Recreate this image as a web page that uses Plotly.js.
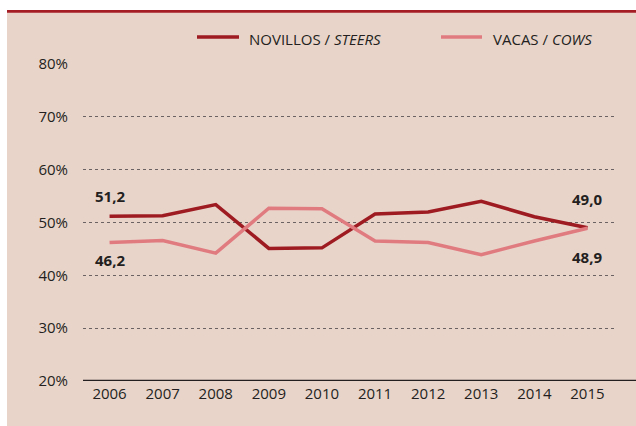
<!DOCTYPE html>
<html>
<head>
<meta charset="utf-8">
<script src="https://cdn.plot.ly/plotly-3.0.1.min.js"></script>
<style>html,body{margin:0;padding:0;background:#fff;}#chart{width:636px;height:426px;}</style>
</head>
<body>
<div id="chart"></div>
<script>
const years = [2006, 2007, 2008, 2009, 2010, 2011, 2012, 2013, 2014, 2015];
const steers = [51.2, 51.3, 53.4, 45.1, 45.2, 51.6, 52.0, 54.0, 51.1, 49.0];
const cows = [46.2, 46.6, 44.2, 52.7, 52.6, 46.5, 46.2, 43.9, 46.5, 48.9];
const yTicks = [20, 30, 40, 50, 60, 70, 80];
const yTickText = ['20%', '30%', '40%', '50%', '60%', '70%', '80%'];
const steersName = 'NOVILLOS / <i>STEERS</i>';
const cowsName = 'VACAS / <i>COWS</i>';

const W = 636, H = 426;
const mL = 83, mR = 22, mT = 64, mB = 45;
const pw = W - mL - mR, ph = H - mT - mB;
const px = x => (x - mL) / pw;
const py = y => (H - mB - y) / ph;

const steersColor = '#9e1b22';
const cowsColor = '#e07b80';
const panel = '#e9d4ca';
const ink = '#231f20';
const fnt = 'Open Sans, DejaVu Sans, sans-serif';

const fmt = v => v.toFixed(1).replace('.', ',');

const traces = [
  {x: years, y: steers, type: 'scatter', mode: 'lines', name: steersName,
   line: {color: steersColor, width: 3.5}, showlegend: false, hoverinfo: 'skip'},
  {x: years, y: cows, type: 'scatter', mode: 'lines', name: cowsName,
   line: {color: cowsColor, width: 3.5}, showlegend: false, hoverinfo: 'skip'}
];

const last = years.length - 1;
const annotations = [
  {x: years[0], y: steers[0], text: fmt(steers[0]), yshift: 20},
  {x: years[0], y: cows[0], text: fmt(cows[0]), yshift: -17},
  {x: years[last], y: steers[last], text: fmt(steers[last]), yshift: 29},
  {x: years[last], y: cows[last], text: fmt(cows[last]), yshift: -29}
].map(a => Object.assign(a, {xref: 'x', yref: 'y', showarrow: false,
  xanchor: 'center', yanchor: 'middle',
  font: {family: fnt, size: 15, color: ink, weight: 'bold'}}));

// legend (manual)
annotations.push({xref: 'paper', yref: 'paper', x: px(247), y: py(38.5), text: steersName,
  showarrow: false, xanchor: 'left', yanchor: 'middle', font: {family: fnt, size: 15, color: ink}});
annotations.push({xref: 'paper', yref: 'paper', x: px(491), y: py(38.5), text: cowsName,
  showarrow: false, xanchor: 'left', yanchor: 'middle', font: {family: fnt, size: 15, color: ink}});

const shapes = [
  {type: 'rect', xref: 'paper', yref: 'paper', x0: px(0), x1: px(7), y0: py(H), y1: py(0),
   fillcolor: '#ffffff', line: {width: 0}, layer: 'below'},
  {type: 'rect', xref: 'paper', yref: 'paper', x0: px(0), x1: px(W), y0: py(10), y1: py(0),
   fillcolor: '#ffffff', line: {width: 0}, layer: 'below'},
  {type: 'rect', xref: 'paper', yref: 'paper', x0: px(7), x1: px(W), y0: py(12.8), y1: py(10),
   fillcolor: '#a51d24', line: {width: 0}, layer: 'below'},
  {type: 'line', xref: 'paper', yref: 'paper', x0: px(197), x1: px(239), y0: py(37), y1: py(37),
   line: {color: steersColor, width: 3.5}},
  {type: 'line', xref: 'paper', yref: 'paper', x0: px(441), x1: px(482), y0: py(37), y1: py(37),
   line: {color: cowsColor, width: 3.5}},
  {type: 'line', xref: 'paper', yref: 'y', x0: 0, x1: px(W), y0: 20, y1: 20,
   line: {color: ink, width: 2.5}}
];

const layout = {
  width: W, height: H,
  margin: {l: mL, r: mR, t: mT, b: mB, pad: 0},
  paper_bgcolor: panel, plot_bgcolor: 'rgba(0,0,0,0)',
  font: {family: fnt, size: 15, color: ink},
  showlegend: false,
  xaxis: {range: [2005.5, 2015.5], tickvals: years, ticktext: years.map(String),
    showgrid: false, zeroline: false, showline: false, ticks: '',
    tickfont: {family: fnt, size: 15, color: ink}, ticklabelstandoff: 2, fixedrange: true},
  yaxis: {range: [20, 80], tickvals: yTicks, ticktext: yTickText,
    showgrid: true, gridcolor: '#6b6363', gridwidth: 1, griddash: 'dot',
    zeroline: false, showline: false, ticks: '',
    tickfont: {family: fnt, size: 15, color: ink}, ticklabelstandoff: 14, fixedrange: true},
  shapes: shapes,
  annotations: annotations
};

Plotly.newPlot('chart', traces, layout, {staticPlot: true, displayModeBar: false});
</script>
</body>
</html>
